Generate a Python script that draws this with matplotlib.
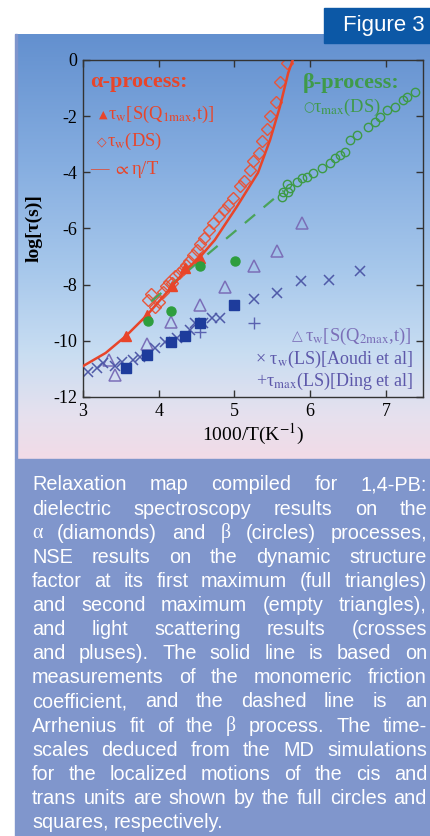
import matplotlib.pyplot as plt
import numpy as np
from matplotlib.colors import LinearSegmentedColormap
from matplotlib.patches import Rectangle

plt.rcParams['mathtext.fontset'] = 'stix'
plt.rcParams['axes.unicode_minus'] = False

# alpha process: NSE first maximum (full triangles)
tri1_x = [3.57, 3.85, 4.18, 4.35, 4.55]
tri1_y = [-9.82, -9.07, -8.04, -7.42, -7.05]

# alpha process: dielectric spectroscopy (diamonds)
dia_x = [3.86, 3.90, 3.95, 4.00, 4.05, 4.10, 4.14, 4.18, 4.22, 4.27, 4.32, 4.36,
         4.40, 4.45, 4.50, 4.55, 4.60, 4.66, 4.72, 4.80, 4.86, 4.92, 4.98, 5.07,
         5.12, 5.21, 5.25, 5.32, 5.36, 5.43, 5.47, 5.55, 5.60, 5.69]
dia_y = [-8.55, -8.35, -8.80, -8.60, -8.25, -8.05, -7.90, -7.95, -7.70, -7.60, -7.45, -7.30,
         -7.15, -6.95, -6.75, -6.55, -6.35, -6.05, -5.80, -5.55, -5.35, -5.15, -4.90, -4.50,
         -4.30, -3.90, -3.60, -3.30, -2.90, -2.45, -2.00, -1.50, -0.80, -0.10]

# solid line: friction coefficient (eta/T)
eta_x = [3.0, 3.3, 3.57, 3.85, 4.18, 4.35, 4.55, 4.74, 5.03, 5.31, 5.47, 5.60, 5.71, 5.77]
eta_y = [-10.9, -10.43, -9.82, -9.07, -8.05, -7.5, -7.0, -6.41, -5.23, -4.02, -2.85, -1.67, -0.46, 0.0]

# beta process: dielectric spectroscopy (open circles)
beta_x = [5.63, 5.64, 5.69, 5.71, 5.73, 5.82, 5.89, 5.96, 6.04, 6.16, 6.26, 6.33,
          6.40, 6.46, 6.53, 6.62, 6.76, 6.86, 6.92, 7.01, 7.12, 7.23, 7.28, 7.39]
beta_y = [-4.87, -4.70, -4.40, -4.70, -4.55, -4.34, -4.20, -4.15, -4.02, -3.85, -3.67, -3.49,
          -3.38, -3.27, -2.85, -2.67, -2.38, -2.20, -2.03, -1.78, -1.67, -1.42, -1.31, -1.14]

# Arrhenius fit of beta process (dashed)
arr_x = [3.9, 5.65]
arr_y = [-8.6, -4.65]

# MD: cis (full circles) and trans (squares)
cis_x = [3.86, 4.16, 4.55, 5.01]
cis_y = [-9.30, -8.95, -7.35, -7.15]
trans_x = [3.57, 3.85, 4.16, 4.35, 4.55, 5.00]
trans_y = [-10.96, -10.52, -10.04, -9.84, -9.38, -8.74]

# NSE second maximum (empty triangles)
tri2_x = [3.42, 3.34, 3.84, 4.16, 4.55, 4.88, 5.26, 5.56, 5.89]
tri2_y = [-11.2, -10.7, -10.1, -9.32, -8.74, -8.08, -7.33, -6.80, -5.81]

# light scattering: Aoudi (crosses), Ding (pluses)
lsa_x = [3.07, 3.18, 3.27, 3.42, 3.51, 3.66, 3.75, 3.95, 4.08, 4.24, 4.41, 4.48,
         4.59, 4.70, 4.81, 5.26, 5.56, 5.88, 6.25, 6.66]
lsa_y = [-11.1, -10.97, -10.8, -10.9, -10.75, -10.68, -10.57, -10.25, -10.05, -9.9, -9.6, -9.35,
         -9.37, -9.18, -9.18, -8.52, -8.28, -7.86, -7.83, -7.50]
lsd_x = [4.55, 5.26]
lsd_y = [-9.70, -9.38]

caption_lines = [
    "Relaxation map compiled for 1,4-PB:",
    "dielectric spectroscopy results on the",
    "\u03b1 (diamonds) and \u03b2 (circles) processes,",
    "NSE results on the dynamic structure",
    "factor at its first maximum (full triangles)",
    "and second maximum (empty triangles),",
    "and light scattering results (crosses",
    "and pluses). The solid line is based on",
    "measurements of the monomeric friction",
    "coefficient, and the dashed line is an",
    "Arrhenius fit of the \u03b2 process. The time-",
    "scales deduced from the MD simulations",
    "for the localized motions of the cis and",
    "trans units are shown by the full circles and",
    "squares, respectively.",
]

W, H = 430, 836
fig = plt.figure(figsize=(W / 100, H / 100), dpi=100)


def box(x0, y0, x1, y1):
    return [x0 / W, 1 - y1 / H, (x1 - x0) / W, (y1 - y0) / H]


# gradient panel behind the plot
bg = fig.add_axes(box(15, 34, 430, 459))
cmap = LinearSegmentedColormap.from_list('bg', [(0, '#6390cf'), (0.3, '#85ade0'), (0.55, '#a6c7eb'),
                                                 (0.75, '#c8ddf2'), (0.9, '#e6e1ee'), (1, '#f2dbe7')])
bg.imshow(np.linspace(0, 1, 256).reshape(-1, 1), aspect='auto', cmap=cmap, extent=[0, 1, 0, 1])
bg.axis('off')
fig.patches.append(Rectangle((15 / W, 1 - 459 / H), 2 / W, 425 / H, color='#7f95cc',
                             transform=fig.transFigure))

# caption panel and figure tag
fig.patches.append(Rectangle((15 / W, 0), 415 / W, 1 - 459 / H, color='#8096cc',
                             transform=fig.transFigure))
fig.patches.append(Rectangle((324 / W, 1 - 43 / H), 106 / W, 35 / H, color='#0c58a6',
                             transform=fig.transFigure, zorder=5))
fig.text(384 / W, 1 - 26 / H, 'Figure 3', color='white', fontsize=16, family='Liberation Sans',
         ha='center', va='center', zorder=6)

ax = fig.add_axes(box(83, 60, 423, 397))
ax.set_facecolor('none')

red = '#e8452a'
ax.plot(dia_x, dia_y, 'D', ms=6.5, mfc='none', mec='#e8553a', mew=1.0, zorder=2)
ax.plot(eta_x, eta_y, color=red, lw=1.8, zorder=3)
ax.plot(tri1_x, tri1_y, '^', ms=7, color=red, zorder=4)
ax.plot(arr_x, arr_y, color='#4aa35a', lw=1.6, dashes=(6, 5))
ax.plot(beta_x, beta_y, 'o', ms=6, mfc='none', mec='#3d9a45', mew=1.0)
ax.plot(cis_x, cis_y, 'o', ms=6.5, color='#2e9e3e', zorder=4)
ax.plot(trans_x, trans_y, 's', ms=6.5, color='#1e3c9c', zorder=4)
ax.plot(tri2_x, tri2_y, '^', ms=8, mfc='none', mec='#7b6fb8', mew=1.1)
ax.plot(lsa_x, lsa_y, 'x', ms=7, color='#4f5aa8', mew=1.1)
ax.plot(lsd_x, lsd_y, '+', ms=8, color='#5a62b0', mew=1.0)

ax.set_xlim(3, 7.49)
ax.set_ylim(-12, 0)
ax.set_xticks([3, 4, 5, 6, 7])
ax.set_yticks([0, -2, -4, -6, -8, -10, -12])
ax.tick_params(direction='in', top=True, right=True, length=5, width=1, color='#333333',
               labelsize=13, pad=4)
for lab in ax.get_xticklabels() + ax.get_yticklabels():
    lab.set_family('Liberation Serif')
for s in ax.spines.values():
    s.set_color('#333333')
    s.set_linewidth(1)
ax.set_xlabel('1000/T(K$^{-1}$)', fontsize=14, family='Liberation Serif', labelpad=2)
ax.set_ylabel('log[\u03c4(s)]', fontsize=14, family='Liberation Serif', fontweight='bold')
ax.yaxis.set_label_coords(-0.118, 0.5)

serif = 'Liberation Serif'
sym = 'DejaVu Sans'
lfs = 13.3
ax.text(0.02, 0.935, '\u03b1-process:', color=red, fontsize=16, fontweight='bold', family=serif,
        transform=ax.transAxes, va='center')
ax.text(0.048, 0.837, '\u25b2', color=red, fontsize=8, family=sym, transform=ax.transAxes, va='center')
ax.text(0.075, 0.837, '\u03c4$_\\mathrm{w}$[S(Q$_\\mathrm{1max}$,t)]', color=red, fontsize=lfs, family=serif,
        transform=ax.transAxes, va='center')
ax.text(0.04, 0.757, '\u25c7', color=red, fontsize=9, family=sym, transform=ax.transAxes, va='center')
ax.text(0.072, 0.757, '\u03c4$_\\mathrm{w}$(DS)', color=red, fontsize=lfs, family=serif,
        transform=ax.transAxes, va='center')
ax.text(0.02, 0.674, '\u2014 $\\propto$\u03b7/T', color=red, fontsize=lfs, family=serif,
        transform=ax.transAxes, va='center')

green = '#3f9a4a'
ax.text(0.647, 0.932, '\u03b2-process:', color=green, fontsize=16, fontweight='bold', family=serif,
        transform=ax.transAxes, va='center')
ax.text(0.647, 0.858, '\u25cb', color=green, fontsize=9, family=sym, transform=ax.transAxes, va='center')
ax.text(0.677, 0.858, '\u03c4$_\\mathrm{max}$(DS)', color=green, fontsize=lfs, family=serif,
        transform=ax.transAxes, va='center')

purple = '#5d58aa'
ax.text(0.967, 0.18, '\u03c4$_\\mathrm{w}$[S(Q$_\\mathrm{2max}$,t)]', color='#7b6fb8', fontsize=lfs,
        family=serif, transform=ax.transAxes, va='center', ha='right')
ax.text(0.645, 0.18, '\u25b3', color='#7b6fb8', fontsize=10, family=sym, transform=ax.transAxes,
        va='center', ha='right')
ax.text(0.97, 0.112, '\u00d7 \u03c4$_\\mathrm{w}$(LS)[Aoudi et al]', color=purple, fontsize=13,
        family=serif, transform=ax.transAxes, va='center', ha='right')
ax.text(0.97, 0.046, '+\u03c4$_\\mathrm{max}$(LS)[Ding et al]', color=purple, fontsize=13,
        family=serif, transform=ax.transAxes, va='center', ha='right')

# justified caption
fig.canvas.draw()
renderer = fig.canvas.get_renderer()
left, right = 32, 427
fs = 14.3


def width(t):
    return t.get_window_extent(renderer).width


probe1 = fig.text(0, 0, 'a a', fontsize=fs, family='Liberation Sans')
probe2 = fig.text(0, 0, 'aa', fontsize=fs, family='Liberation Sans')
space = width(probe1) - width(probe2)
probe1.remove()
probe2.remove()

for i, line in enumerate(caption_lines):
    y = 1 - (485 + i * 24.1) / H
    words = line.split()
    texts = []
    for w in words:
        fam = 'Liberation Serif' if w in ('\u03b1', '\u03b2') else 'Liberation Sans'
        texts.append(fig.text(0, y, w, fontsize=fs, family=fam, color='white', va='center'))
    ws = [width(t) for t in texts]
    if i == len(caption_lines) - 1:
        gap = space
    else:
        gap = (right - left - sum(ws)) / (len(words) - 1)
    x = left
    for t, w in zip(texts, ws):
        t.set_x(x / W)
        x += w + gap

fig.savefig('out.png', dpi=100)
